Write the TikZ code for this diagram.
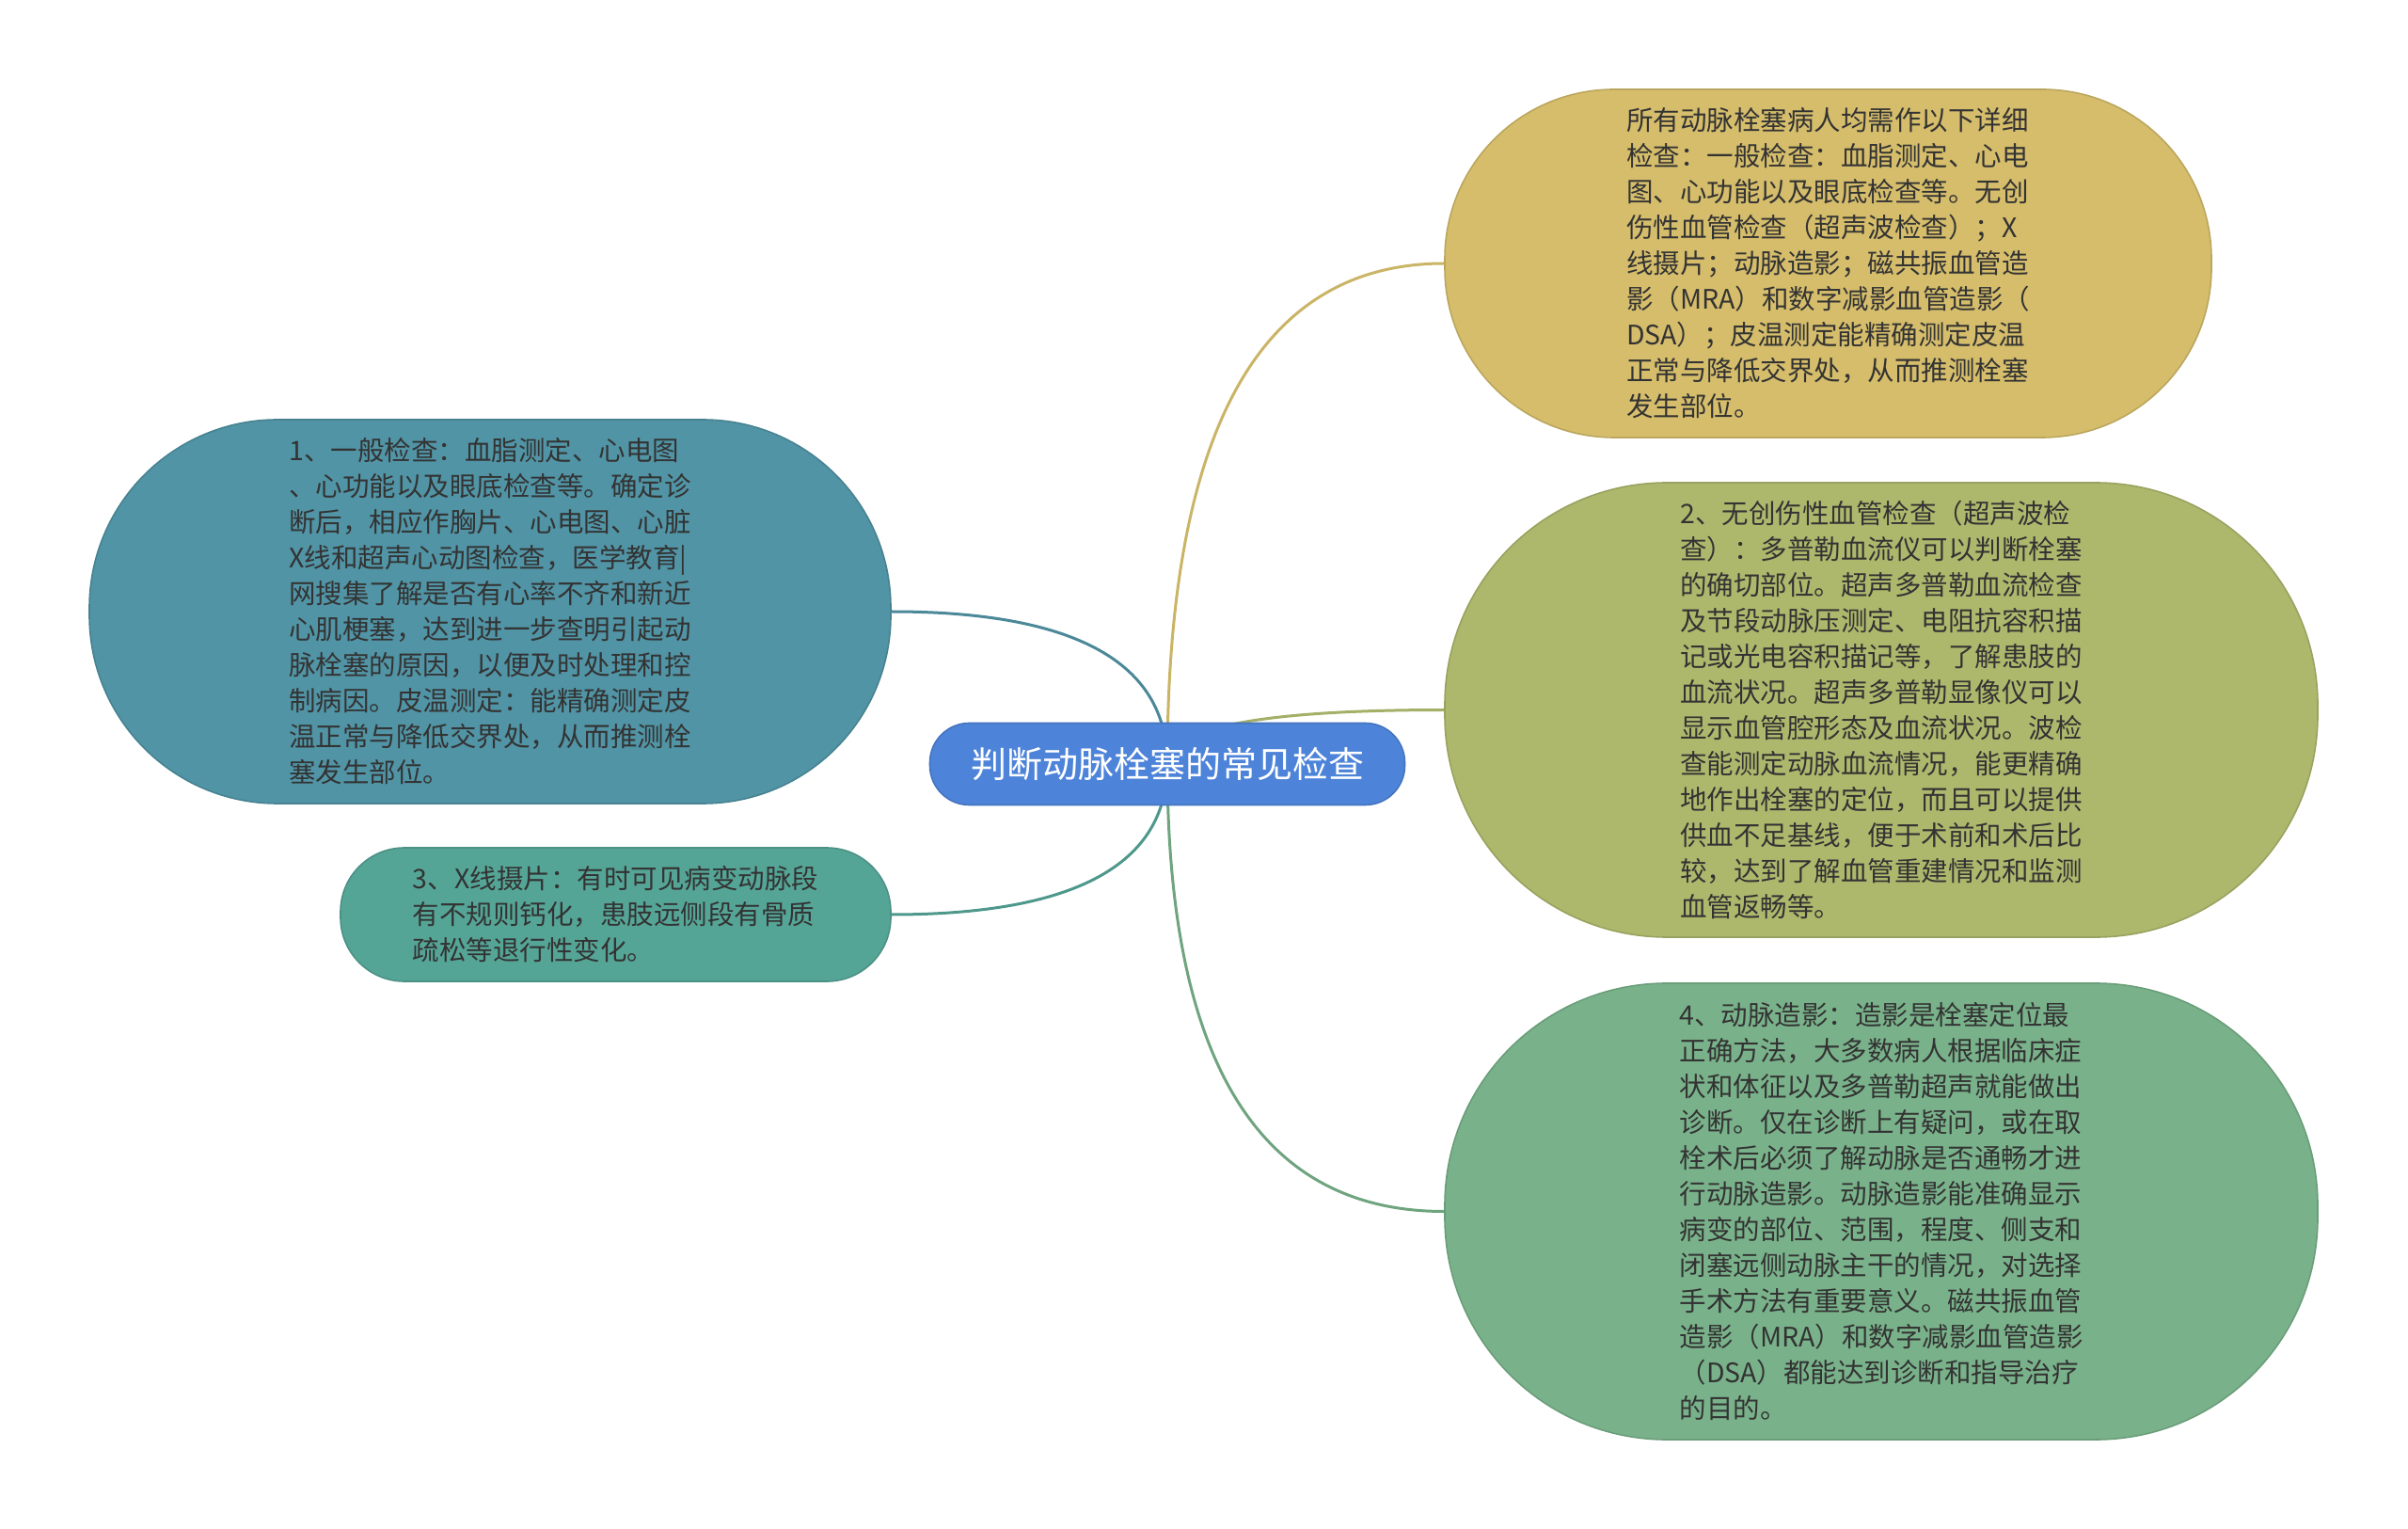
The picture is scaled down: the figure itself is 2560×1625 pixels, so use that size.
\documentclass[tikz,border=0pt]{standalone}
\usepackage{fontspec}
\usepackage{xcolor}
\usetikzlibrary{calc,backgrounds}
\newfontfamily\cjk{Noto Sans CJK SC}
\definecolor{rootblue}{HTML}{4D84D9}
\definecolor{yelfill}{HTML}{D5BD6B}
\definecolor{olvfill}{HTML}{AEB86C}
\definecolor{grnfill}{HTML}{79B28A}
\definecolor{tealfill}{HTML}{5194A5}
\definecolor{seafill}{HTML}{55A597}
\newcommand{\branchfont}{\cjk\fontsize{14.25}{19}\selectfont}

\begin{document}
\begin{tikzpicture}[x=0.5pt, y=-0.5pt,
  every node/.style={font=\branchfont, text=black!80, align=left, inner sep=0pt},
  topic/.style={fill=#1, draw=#1!88!black, line width=0.8pt},
  link/.style={draw=#1, line width=1.5pt}]
\useasboundingbox (0,0) rectangle (2560,1625);
% Root
\node[topic=rootblue, minimum width=252.5pt, minimum height=43.5pt, rounded corners=21pt,
  font=\cjk\fontsize{19}{22}\selectfont, text=white] (root) at (1241,812) {判断动脉栓塞的常见检查};
% Right side
\node[topic=yelfill, minimum width=407.5pt, minimum height=185pt, rounded corners=90pt] (yel) at (1943.5,280)
  {所有动脉栓塞病人均需作以下详细\\检查：一般检查：血脂测定、心电\\图、心功能以及眼底检查等。无创\\伤性血管检查（超声波检查）；X\\线摄片；动脉造影；磁共振血管造\\影（MRA）和数字减影血管造影（\\DSA）；皮温测定能精确测定皮温\\正常与降低交界处，从而推测栓塞\\发生部位。};
\node[topic=olvfill, minimum width=464pt, minimum height=241.5pt, rounded corners=118pt] (olv) at (2000,754.5)
  {2、无创伤性血管检查（超声波检\\查）：多普勒血流仪可以判断栓塞\\的确切部位。超声多普勒血流检查\\及节段动脉压测定、电阻抗容积描\\记或光电容积描记等，了解患肢的\\血流状况。超声多普勒显像仪可以\\显示血管腔形态及血流状况。波检\\查能测定动脉血流情况，能更精确\\地作出栓塞的定位，而且可以提供\\供血不足基线，便于术前和术后比\\较，达到了解血管重建情况和监测\\血管返畅等。};
\node[topic=grnfill, minimum width=464pt, minimum height=242.5pt, rounded corners=118pt] (grn) at (2000,1287.5)
  {4、动脉造影：造影是栓塞定位最\\正确方法，大多数病人根据临床症\\状和体征以及多普勒超声就能做出\\诊断。仅在诊断上有疑问，或在取\\栓术后必须了解动脉是否通畅才进\\行动脉造影。动脉造影能准确显示\\病变的部位、范围，程度、侧支和\\闭塞远侧动脉主干的情况，对选择\\手术方法有重要意义。磁共振血管\\造影（MRA）和数字减影血管造影\\（DSA）都能达到诊断和指导治疗\\的目的。};
% Left side
\node[topic=tealfill, minimum width=426pt, minimum height=204pt, rounded corners=100pt] (lf1) at (521,650)
  {1、一般检查：血脂测定、心电图\\、心功能以及眼底检查等。确定诊\\断后，相应作胸片、心电图、心脏\\X线和超声心动图检查，医学教育|\\网搜集了解是否有心率不齐和新近\\心肌梗塞，达到进一步查明引起动\\脉栓塞的原因，以便及时处理和控\\制病因。皮温测定：能精确测定皮\\温正常与降低交界处，从而推测栓\\塞发生部位。};
\node[topic=seafill, minimum width=292.5pt, minimum height=71pt, rounded corners=34pt] (lf3) at (654.5,972)
  {3、X线摄片：有时可见病变动脉段\\有不规则钙化，患肢远侧段有骨质\\疏松等退行性变化。};
% Links
\begin{scope}[on background layer]
\draw[link=yelfill!95!black] (root.center) .. controls ($(root.center)!2/3!(root.center |- yel.west)$) and ($(yel.west)!2/3!(root.center |- yel.west)$) .. (yel.west);
\draw[link=olvfill!95!black] (root.center) .. controls ($(root.center)!2/3!(root.center |- olv.west)$) and ($(olv.west)!2/3!(root.center |- olv.west)$) .. (olv.west);
\draw[link=grnfill!92!black] (root.center) .. controls ($(root.center)!2/3!(root.center |- grn.west)$) and ($(grn.west)!2/3!(root.center |- grn.west)$) .. (grn.west);
\draw[link=tealfill!92!black] (root.center) .. controls ($(root.center)!2/3!(root.center |- lf1.east)$) and ($(lf1.east)!2/3!(root.center |- lf1.east)$) .. (lf1.east);
\draw[link=seafill!92!black] (root.center) .. controls ($(root.center)!2/3!(root.center |- lf3.east)$) and ($(lf3.east)!2/3!(root.center |- lf3.east)$) .. (lf3.east);
\end{scope}
\end{tikzpicture}
\end{document}
